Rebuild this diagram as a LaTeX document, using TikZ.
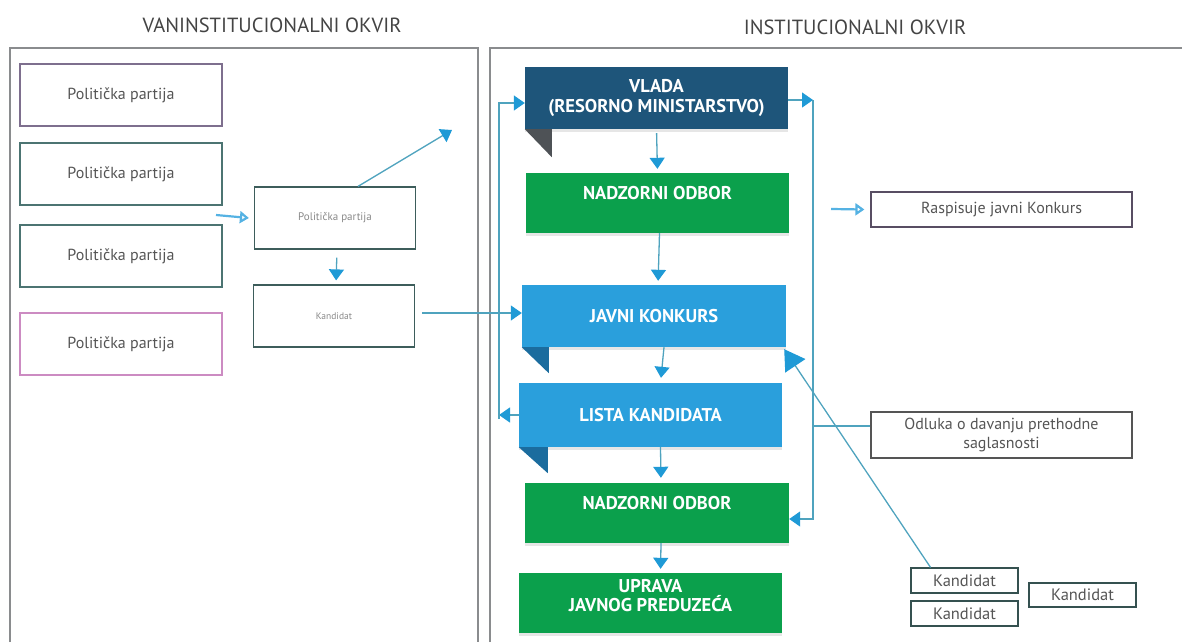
\documentclass[tikz,border=0pt]{standalone}
\usepackage{fontspec}
\setmainfont{PT Sans}
\usetikzlibrary{arrows.meta,positioning,shadows}

\definecolor{vladablue}{HTML}{1E557A}
\definecolor{vladafold}{HTML}{4E5256}
\definecolor{konkblue}{HTML}{2A9FDC}
\definecolor{konkfold}{HTML}{1B6C9E}
\definecolor{boardgreen}{HTML}{0BA04C}
\definecolor{linecol}{HTML}{4FA3BE}
\definecolor{tipblue}{HTML}{1F9AD6}
\definecolor{framegray}{HTML}{8A8C8E}
\definecolor{boxpurple}{HTML}{7E6F8E}
\definecolor{boxteal}{HTML}{4C7472}
\definecolor{boxpink}{HTML}{CC8BC2}
\definecolor{textgray}{HTML}{555555}

\tikzset{
  frame/.style={draw=framegray, line width=1.4pt},
  title/.style={font=\fontsize{20.5}{22}\selectfont, text=textgray!80!black},
  partybox/.style={draw, line width=1.3pt, minimum width=202pt, minimum height=62pt,
    font=\fontsize{16}{18}\selectfont, text=textgray},
  midbox/.style={draw=boxteal!80!black, line width=1.2pt, minimum width=161pt, minimum height=62pt,
    text=textgray!70},
  mainbox/.style={minimum width=263pt, minimum height=62pt, text=white, align=center,
    font=\bfseries\fontsize{18.5}{19.5}\selectfont,
    drop shadow={opacity=0.2, shadow xshift=0pt, shadow yshift=-3pt}},
  infobox/.style={draw=boxpurple!70!black, line width=1.2pt, minimum width=261pt,
    align=center, font=\fontsize{16}{18.5}\selectfont, text=textgray},
  kandbox/.style={draw=boxteal!70!black, line width=1.2pt, minimum width=107pt, minimum height=25pt,
    inner sep=0pt, font=\fontsize{16.5}{18}\selectfont, text=textgray},
  flow/.style={draw=linecol, line width=1.3pt, -{Triangle[width=15pt,length=11pt,color=tipblue]}},
  openflow/.style={draw=konkblue!80, line width=2.2pt, -{Triangle[open,width=12pt,length=9pt]}},
  plain/.style={draw=linecol, line width=1.3pt}
}

\begin{document}
\begin{tikzpicture}[x=1pt, y=-1pt]
  \useasboundingbox (0,0) rectangle (1182,642);

  % Frames and titles
  \draw[frame] (10,642) -- (10,48) -- (478,48) -- (478,642);
  \draw[frame] (490,642) -- (490,48) -- (1182,48);
  \node[title] (outtitle) at (272,25) {VANINSTITUCIONALNI OKVIR};
  \node[title] (intitle) at (855,27) {INSTITUCIONALNI OKVIR};

  % Parties outside the institutions
  \node[partybox, draw=boxpurple] (party1) at (121,95) {Politička partija};
  \node[partybox, draw=boxteal] (party2) at (121,174) {Politička partija};
  \node[partybox, draw=boxteal] (party3) at (121,256) {Politička partija};
  \node[partybox, draw=boxpink] (party4) at (121,344) {Politička partija};

  \node[midbox, font=\fontsize{11}{13}\selectfont] (party) at (335,218) {Politička partija};
  \node[midbox, font=\fontsize{9.5}{11}\selectfont] (kand) at (334,316) {Kandidat};
  \coordinate (partyin) at (216,215);
  \coordinate (upward) at (452,130);

  % Institutional boxes
  \node[mainbox, fill=vladablue] (vlada) at (656.5,98) {VLADA\\(RESORNO MINISTARSTVO)};
  \node[mainbox, fill=boardgreen, minimum height=60pt, text depth=20pt] (board1) at (657.5,203) {NADZORNI ODBOR};
  \node[mainbox, fill=konkblue, minimum width=264pt] (javni) at (654,316) {JAVNI KONKURS};
  \node[mainbox, fill=konkblue, minimum height=64pt] (lista) at (650.5,415) {LISTA KANDIDATA};
  \node[mainbox, fill=boardgreen, minimum width=264pt, minimum height=60pt, text depth=20pt] (board2) at (657,513) {NADZORNI ODBOR};
  \node[mainbox, fill=boardgreen, minimum height=60pt, text depth=15pt] (uprava) at (650.5,603) {UPRAVA\\JAVNOG PREDUZEĆA};

  % Folds under the ribbons
  \fill[vladafold] (vlada.south west) -- ++(27,0) -- ++(0,28) -- cycle;
  \fill[konkfold] (javni.south west) -- ++(27,0) -- ++(0,26) -- cycle;
  \fill[konkfold] (lista.south west) -- ++(29,0) -- ++(0,26) -- cycle;

  % Notes on the right
  \node[infobox, minimum height=35pt] (rasp) at (1001.5,209.5) {Raspisuje javni Konkurs};
  \node[infobox, draw=textgray, minimum height=46pt] (odluka) at (1001.5,435) {Odluka o davanju prethodne\\saglasnosti};
  \node[kandbox] (kand1) at (964.5,580.5) {Kandidat};
  \node[kandbox] (kand2) at (964.5,613.5) {Kandidat};
  \node[kandbox, minimum height=24pt] (kand3) at (1082.5,595) {Kandidat};
  \coordinate (raspin) at (831,209);

  % Rails
  \coordinate (lrailtop) at (499,103);
  \coordinate (lrailbot) at (499,419);
  \coordinate (rrailtop) at (813,100);
  \coordinate (rrailbot) at (813,519);

  % Draw the edges
  \draw[openflow] (partyin) -- ([xshift=-5pt]party.west);
  \draw[flow, shorten <=8pt, shorten >=4pt] (party.south) ++(2,0) -- ([xshift=2pt]kand.north);
  \draw[flow] ([xshift=23pt]party.north) -- (upward);
  \draw[flow, shorten <=7pt] (kand.east) ++(0,-3) -- (javni.west |- 0,313);

  \draw[flow, shorten <=4pt, shorten >=4pt] (vlada.south) -- (board1.north);
  \draw[flow, shorten >=4pt] ([xshift=2pt]board1.south) -- ([xshift=4pt]javni.north);
  \draw[flow, shorten >=5pt] ([xshift=10pt]javni.south) -- ([xshift=10pt]lista.south |- lista.north);
  \draw[flow, shorten >=5pt] ([xshift=10pt]lista.south) -- ([xshift=4pt]board2.north);
  \draw[flow, shorten >=4pt] ([xshift=4pt]board2.south) -- ([xshift=10pt]uprava.north);

  \draw[flow] (lista.west) -- (lista.west -| lrailbot);
  \draw[flow] (lrailbot) -- (lrailtop) -- (vlada.west |- lrailtop);
  \draw[flow] (vlada.east |- rrailtop) -- (rrailtop);
  \draw[flow] (rrailtop) -- (rrailbot) -- (board2.east |- rrailbot);
  \draw[plain] ([yshift=9pt]odluka.west) -- ([yshift=9pt]odluka.west -| rrailtop);

  \draw[openflow] (raspin) -- ([xshift=-6pt]rasp.west);
  \draw[draw=linecol, line width=1.3pt, -{Triangle[width=24pt,length=20pt,color=tipblue]}]
    ([xshift=-34pt]kand1.north) -- ([shift={(-2pt,-2pt)}]javni.south east);
\end{tikzpicture}
\end{document}
